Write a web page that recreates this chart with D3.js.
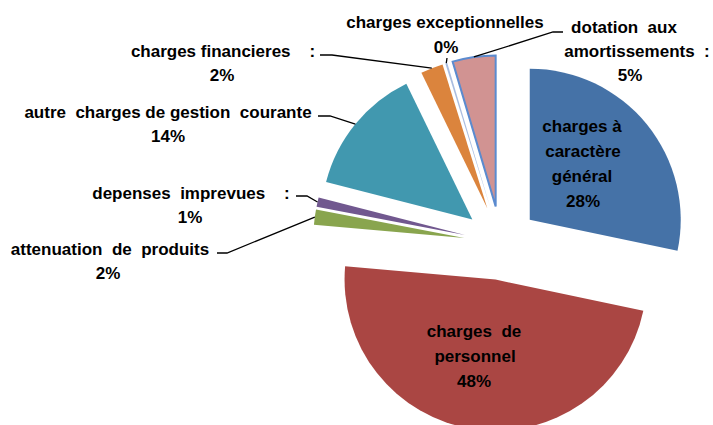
<!DOCTYPE html>
<html>
<head>
<meta charset="utf-8">
<script src="https://cdn.jsdelivr.net/npm/d3@7"></script>
<style>
  html, body { margin: 0; padding: 0; background: #fff; }
  svg { display: block; }
  text { font-family: "Liberation Sans", Arial, sans-serif; font-weight: bold; fill: #000; white-space: pre; }
</style>
</head>
<body>
<svg id="chart" width="713" height="425"></svg>
<script>
// ---- data ----
const categories = [
  "charges à caractère général",
  "charges de personnel",
  "attenuation de produits",
  "depenses imprevues",
  "autre charges de gestion courante",
  "charges financieres",
  "charges exceptionnelles",
  "dotation aux amortissements"
];
const values = [28.3, 48.1, 1.6, 1.0, 13.8, 2.4, 0.2, 4.6];
const colors = ["#4572A7", "#AA4643", "#89A54E", "#71588F", "#4198AF", "#DB843D", "#A9BDE0", "#D19392"];
const labelText = [
  ["charges à", "caractère", "général"],
  ["charges  de", "personnel"],
  ["attenuation  de  produits"],
  ["depenses  imprevues    :"],
  ["autre  charges de gestion  courante"],
  ["charges financieres    :"],
  ["charges exceptionnelles"],
  ["dotation  aux", "amortissements  :"]
];

// ---- layout ----
const W = 713, H = 425;
const cx = 501, cy = 243, R = 151, explode = 37;
const fontSize = 17;
// per-slice label layout: line centers x, first baseline y
const labelLayout = [
  { xs: [582, 583, 582, 583], y: 132, lh: 25 },
  { xs: [474, 475, 474], y: 337, lh: 25 },
  { xs: [110, 108], y: 255, lh: 23.5, anchor: [217, 253], elbow: [227, 253] },
  { xs: [191, 190], y: 199, lh: 24, anchor: [296, 196], elbow: [307, 196] },
  { xs: [168, 168], y: 118, lh: 24, anchor: [318, 116], elbow: [330, 116] },
  { xs: [223, 222], y: 57, lh: 24, anchor: [320, 55], elbow: [332, 55] },
  { xs: [445, 446], y: 28, lh: 25, anchor: [447, 58], elbow: null },
  { xs: [624, 637, 630], y: 33, lh: 24, anchor: [563, 32], elbow: [553, 32] }
];

const total = d3.sum(values);
const pct = values.map(v => Math.round(v / total * 100) + "%");

const svg = d3.select("#chart");
const pie = d3.pie().sort(null).value(d => d).startAngle(0).endAngle(2 * Math.PI);
const arcs = pie(values);
const arc = d3.arc().innerRadius(0).outerRadius(R);

const g = svg.append("g").attr("transform", `translate(${cx},${cy})`);

g.selectAll("path.slice")
  .data(arcs)
  .join("path")
  .attr("class", "slice")
  .attr("d", arc)
  .attr("fill", (d, i) => colors[i])
  .attr("stroke", (d, i) => i === 7 ? "#5B8BCF" : "none")
  .attr("stroke-width", (d, i) => i === 7 ? 2 : 0)
  .attr("stroke-linejoin", "miter")
  .attr("transform", d => {
    const a = (d.startAngle + d.endAngle) / 2;
    return `translate(${explode * Math.sin(a)},${-explode * Math.cos(a)})`;
  });

// leader lines
arcs.forEach((d, i) => {
  const L = labelLayout[i];
  if (!L.anchor) return;
  const a = (d.startAngle + d.endAngle) / 2;
  const mx = cx + (R + explode) * Math.sin(a);
  const my = cy - (R + explode) * Math.cos(a);
  const pts = [L.anchor];
  if (L.elbow) pts.push(L.elbow);
  pts.push([mx, my]);
  svg.append("path")
    .attr("d", d3.line()(pts))
    .attr("fill", "none")
    .attr("stroke", "#000")
    .attr("stroke-width", 1.3);
});

// labels
arcs.forEach((d, i) => {
  const L = labelLayout[i];
  const lines = labelText[i].concat([pct[i]]);
  lines.forEach((t, k) => {
    svg.append("text")
      .attr("x", L.xs[k])
      .attr("y", L.y + k * L.lh)
      .attr("text-anchor", "middle")
      .attr("font-size", fontSize)
      .text(t);
  });
});
</script>
</body>
</html>
